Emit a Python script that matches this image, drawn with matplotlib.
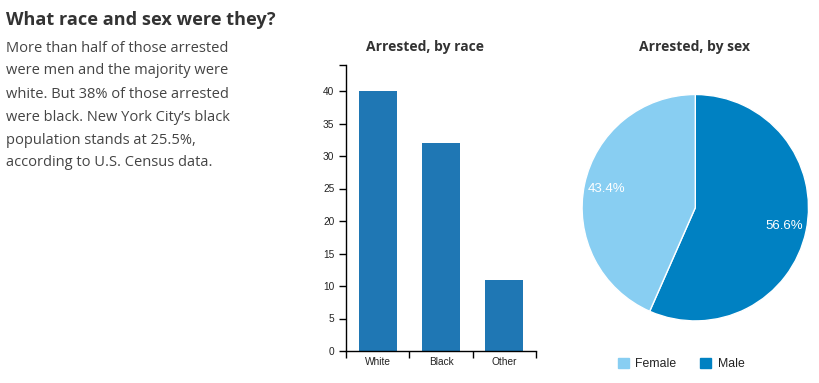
import matplotlib.pyplot as plt
from matplotlib.patches import Patch

# Data
race_labels = ['White', 'Black', 'Other']
race_values = [40, 32, 11]
sex_labels = ['Male', 'Female']
sex_values = [56.6, 43.4]
sex_colors = ['#0081C2', '#88CEF2']
bar_color = '#1F77B4'
y_ticks = [0, 5, 10, 15, 20, 25, 30, 35, 40]

W, H = 820, 383
fig = plt.figure(figsize=(W / 100, H / 100), dpi=100)
fig.patch.set_facecolor('white')


def px(x, y):
    return x / W, 1 - y / H


text_col = '#333333'

# Heading and intro text
fig.text(*px(6, 20), 'What race and sex were they?', family='Open Sans', fontsize=13.1,
         fontweight='bold', color=text_col, va='center', ha='left')
body = ['More than half of those arrested',
        'were men and the majority were',
        'white. But 38% of those arrested',
        "were black. New York City\u2019s black",
        'population stands at 25.5%,',
        'according to U.S. Census data.']
for i, line in enumerate(body):
    fig.text(*px(6, 48 + i * 23), line, family='Open Sans', fontsize=10.55,
             color='#444444', va='center', ha='left')

# Bar chart
ax = fig.add_axes([346 / W, (H - 351) / H, (536 - 346) / W, (351 - 65) / H])
x = range(len(race_values))
ax.bar(x, race_values, width=0.6, color=bar_color)
ax.set_xlim(-0.5, 2.5)
ax.set_ylim(0, 44)
for s in ['top', 'right']:
    ax.spines[s].set_visible(False)
for s in ['left', 'bottom']:
    ax.spines[s].set_linewidth(1)
    ax.spines[s].set_color('black')
ax.set_yticks(y_ticks + [44])
ax.set_yticklabels([str(v) for v in y_ticks] + [''])
ax.set_xticks([-0.5, 0.5, 1.5, 2.5])
ax.set_xticklabels([])
ax.set_xticks(list(x), minor=True)
ax.set_xticklabels(race_labels, minor=True)
ax.tick_params(axis='x', which='minor', length=0, pad=4)
ax.tick_params(axis='both', which='major', length=5, width=1, color='black')
for lab in ax.get_xticklabels(minor=True) + ax.get_yticklabels():
    lab.set_family('Liberation Sans')
    lab.set_fontsize(7.3)
    lab.set_color('#222222')
fig.text(*px(425, 47), 'Arrested, by race', family='Open Sans', fontsize=10,
         fontweight='bold', color=text_col, ha='center', va='center')

# Pie chart
r = 113.2
cx, cy = 695.3, 207.7
pax = fig.add_axes([(cx - r) / W, (H - cy - r) / H, 2 * r / W, 2 * r / H])
wedges, texts, autotexts = pax.pie(
    sex_values, colors=sex_colors, startangle=90, counterclock=False,
    autopct='%.1f%%', pctdistance=0.8, radius=1,
    wedgeprops=dict(edgecolor='white', linewidth=1))
for t in autotexts:
    t.set_color('white')
    t.set_fontsize(9.5)
    t.set_family('Liberation Sans')
pax.set_xlim(-1, 1)
pax.set_ylim(-1, 1)
pax.set_aspect('equal')
fig.text(*px(695, 47), 'Arrested, by sex', family='Open Sans', fontsize=10,
         fontweight='bold', color=text_col, ha='center', va='center')

handles = [Patch(color=sex_colors[1]), Patch(color=sex_colors[0])]
fig.legend(handles, ['Female', 'Male'], ncol=2, frameon=False,
           loc='center', bbox_to_anchor=px(681, 364),
           handlelength=0.9, handleheight=0.9, handletextpad=0.5,
           columnspacing=2.0,
           prop={'family': 'Liberation Sans', 'size': 8.8}, labelcolor='#222222')

fig.savefig('out.png', dpi=100)
